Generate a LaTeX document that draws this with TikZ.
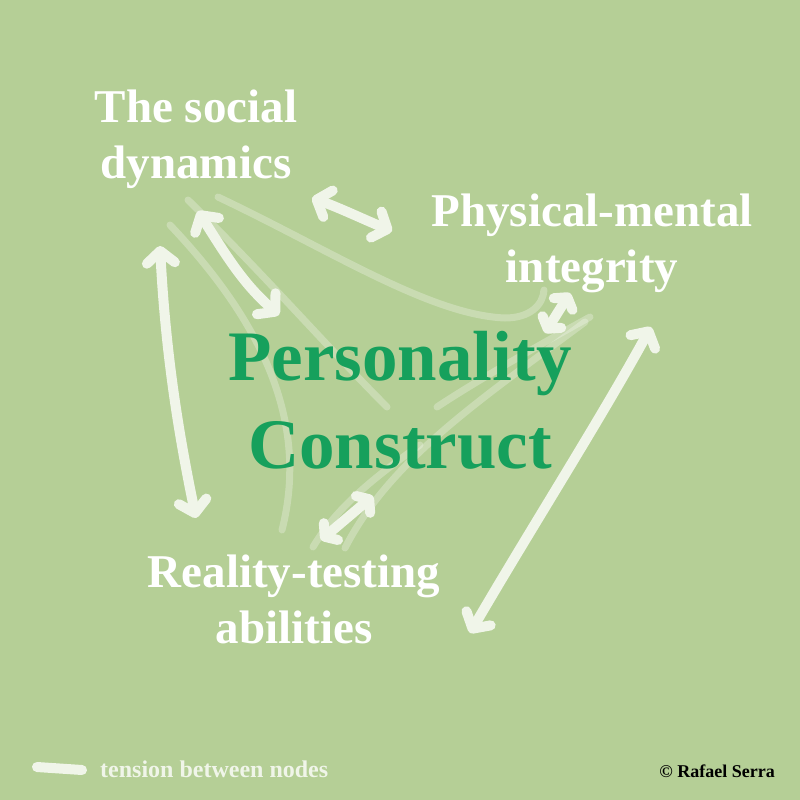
\documentclass[tikz,border=0pt]{standalone}
\usepackage{fontspec}
\setmainfont{Liberation Serif}
\usetikzlibrary{arrows.meta}

\definecolor{leaf}{RGB}{181,207,150}
\definecolor{chalk}{RGB}{240,245,233}
\definecolor{deepgreen}{RGB}{22,160,92}

\tikzset{
  strain/.style={chalk, line width=10pt, line cap=round, line join=round,
    {Straight Barb[length=12pt,width=28pt,round]}-{Straight Barb[length=12pt,width=28pt,round]}},
  short strain/.style={strain,
    {Straight Barb[length=8pt,width=22pt,round]}-{Straight Barb[length=8pt,width=22pt,round]}},
  trace/.style={white, opacity=0.27, line width=7pt, line cap=round},
  topic/.style={white, font=\bfseries\fontsize{47}{56}\selectfont, align=center},
}

\begin{document}
\begin{tikzpicture}[x=1pt,y=-1pt] % personality construct
  \fill[leaf] (0,0) rectangle (800,800);
  \useasboundingbox (0,0) rectangle (800,800);

  % faint traces behind the centre
  \draw[trace] (218,197) .. controls (330,250) and (430,315) .. (505,318) .. controls (530,318) and (543,305) .. (544,290);
  \draw[trace] (188,200) .. controls (260,270) and (330,350) .. (387,407);
  \draw[trace] (170,225) .. controls (260,320) and (310,420) .. (282,530);
  \draw[trace] (590,317) .. controls (530,350) and (470,385) .. (437,407);
  \draw[trace] (585,322) .. controls (480,400) and (390,460) .. (345,548);
  \draw[trace] (420,445) .. controls (370,480) and (335,510) .. (313,547);

  \node[topic] (social) at (196,139) {The social\\dynamics};
  \node[topic] (physical) at (592,243) {Physical-mental\\integrity};
  \node[topic] (reality) at (294,599) {Reality-testing\\abilities};
  \node[deepgreen, font=\bfseries\fontsize{71}{88}\selectfont, align=center] (core) at (400,400) {Personality\\Construct};

  % arrow ends
  \coordinate (s1) at (312,198);
  \coordinate (p1) at (392,231);
  \coordinate (s2) at (198,211);
  \coordinate (c1) at (279,315);
  \coordinate (s3) at (160,246);
  \coordinate (r1) at (196,518);
  \coordinate (p2) at (570,293);
  \coordinate (c2) at (545,333);
  \coordinate (r2) at (321,540);
  \coordinate (c3) at (373,496);
  \coordinate (r3) at (470,633);
  \coordinate (p3) at (651,327);

  \draw[strain] (s1) .. controls (340,208) and (365,220) .. (p1);
  \draw[strain] (s2) .. controls (230,262) and (245,285) .. (c1);
  \draw[strain] (s3) .. controls (166,360) and (180,440) .. (r1);
  \draw[short strain] (c2) -- (p2);
  \draw[short strain] (r2) -- (c3);
  \draw[strain] (r3) .. controls (530,530) and (600,420) .. (p3);

  % legend
  \coordinate (l1) at (37,767);
  \coordinate (l2) at (82,770);
  \draw[chalk, line width=10pt, line cap=round] (l1) -- (l2);
  \node[chalk, font=\bfseries\fontsize{24}{28}\selectfont, anchor=base west, inner sep=0pt] (legend) at (100,777) {tension between nodes};
  \node[black, font=\bfseries\fontsize{18}{21}\selectfont, anchor=base east, inner sep=0pt] (credit) at (775,777) {© Rafael Serra};
\end{tikzpicture}
\end{document}
